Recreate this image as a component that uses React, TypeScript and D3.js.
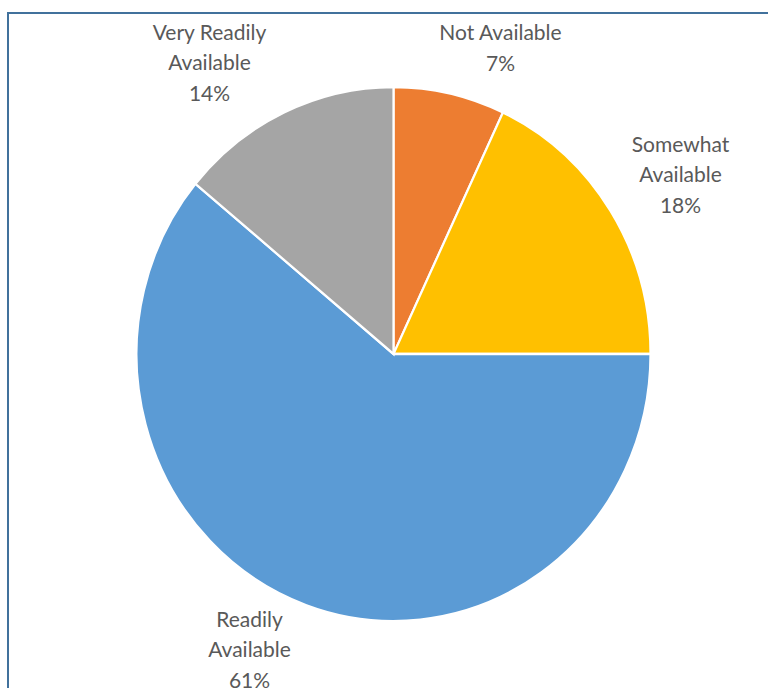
import React from "react";
import * as d3 from "d3";

const categories = ["Not Available", "Somewhat Available", "Readily Available", "Very Readily Available"];
const values = [7, 18, 61, 14];
const colors = ["#ED7D31", "#FFC000", "#5B9BD5", "#A5A5A5"];
const labelLines = [["Not Available"], ["Somewhat", "Available"], ["Readily", "Available"], ["Very Readily", "Available"]];

const W = 768, H = 688;
const cx = 393.5, cy = 354;
const rx = 257, ry = 267;
// label centers offsets (layout) relative to pie centre
const labelOffsets: [number, number][] = [[107, -306], [287, -179], [-144, 296], [-184, -291]];

export default function App() {
  const pie = d3.pie<number>().value(d => d).sort(null);
  const arcs = pie(values);
  const arc = d3.arc<d3.PieArcDatum<number>>().innerRadius(0).outerRadius(rx);
  const lineH = 30.5;
  return (
    <svg width={W} height={H} style={{ position: "absolute", left: 0, top: 0, display: "block", background: "#fff" }}>
      <rect x={8} y={13} width={800} height={720} fill="#fff" stroke="#41719C" strokeWidth={2} />
      <g transform={`translate(${cx},${cy}) scale(1,${ry / rx})`}>
        {arcs.map((a, i) => (
          <path key={categories[i]} d={arc(a) || ""} fill={colors[i]} stroke="#fff" strokeWidth={2.2} />
        ))}
      </g>
      {arcs.map((a, i) => {
        const lines = [...labelLines[i], `${values[i]}%`];
        const [dx, dy] = labelOffsets[i];
        const x = cx + dx;
        const y0 = cy + dy - ((lines.length - 1) * lineH) / 2;
        return (
          <text key={"l" + i} x={x} textAnchor="middle" fontFamily="Lato, 'Noto Sans', sans-serif" fontSize={21} fill="#595959">
            {lines.map((t, j) => (
              <tspan key={j} x={x} y={y0 + j * lineH} dy="0.35em">{t}</tspan>
            ))}
          </text>
        );
      })}
    </svg>
  );
}
